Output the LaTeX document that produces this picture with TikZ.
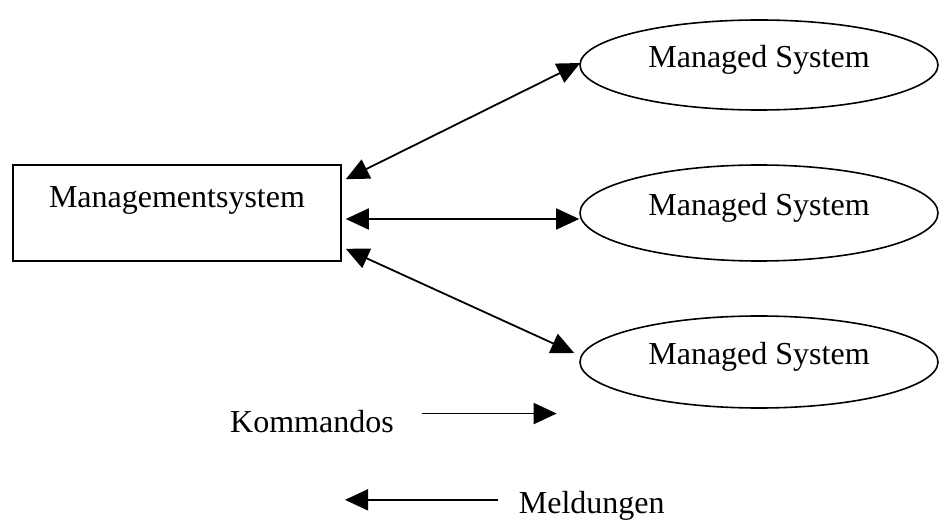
\documentclass[tikz,border=0pt]{standalone}
\usepackage{fontspec}
\setmainfont{Liberation Serif}
\usetikzlibrary{arrows.meta,shapes.geometric}
\begin{document}
\begin{tikzpicture}[x=1pt,y=-1pt,
  font=\fontsize{32}{38}\selectfont,
  line width=1.8pt,
  head/.tip={Triangle[length=23pt,width=21pt]},
  tip/.style={-head},
  bitip/.style={head-head},
  mgrbox/.style={draw, rectangle, inner sep=0pt, minimum width=328pt, minimum height=96pt,
    text height=10pt, text depth=21pt, line width=1.6pt},
  agent/.style={draw, ellipse, inner sep=0pt, minimum width=358pt, minimum height=92pt,
    text height=12pt, text depth=7pt, line width=1.6pt},
  plain/.style={inner sep=0pt}]
\useasboundingbox (0,0) rectangle (940,521);

% manager and managed systems
\node[mgrbox] (ms) at (177,213) {Managementsystem};
\node[agent, minimum height=90pt] (e1) at (759,65) {Managed System};
\node[agent, minimum height=96pt] (e2) at (759,213) {Managed System};
\node[agent, minimum height=92pt] (e3) at (759,362) {Managed System};

% two-way links
\draw[bitip] ([shift={(4,15)}]ms.north east) -- ([shift={(1,-2)}]e1.west);
\draw[bitip] ([shift={(4,6)}]ms.east) -- ([shift={(0,6)}]e2.west);
\draw[bitip] ([shift={(4,-13)}]ms.south east) -- ([shift={(-5,-9)}]e3.west);

% legend
\node[plain, anchor=base] (kom) at (312,432.5) {Kommandos};
\node[plain, anchor=base west] (mel) at (518,513.5) {Meldungen};
\coordinate (komA) at ([shift={(27,-8)}]kom.east);
\coordinate (komB) at ([shift={(162,-8)}]kom.east);
\coordinate (melA) at ([shift={(-20,-6)}]mel.west);
\coordinate (melB) at ([shift={(-173,-6)}]mel.west);
\draw[tip] (komA) -- (komB);
\draw[tip] (melA) -- (melB);
\end{tikzpicture}
\end{document}
